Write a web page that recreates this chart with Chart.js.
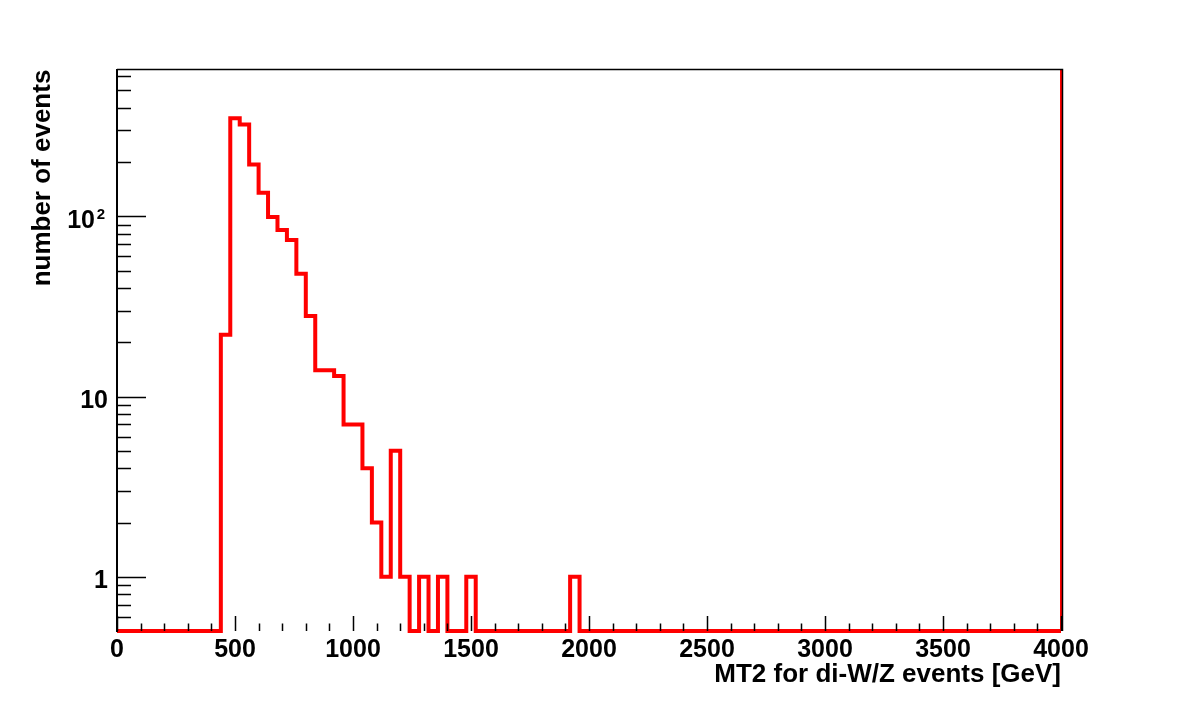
<!DOCTYPE html>
<html>
<head>
<meta charset="utf-8">
<title>MT2 for di-W/Z events</title>
<script src="https://cdn.jsdelivr.net/npm/chart.js@4.4.1/dist/chart.umd.min.js"></script>
<style>
  html, body { margin: 0; padding: 0; background: #fff; }
  #wrap { width: 1182px; height: 703px; }
</style>
</head>
<body>
<div id="wrap"><canvas id="mt2Chart" width="1182" height="703"></canvas></div>
<script>
// Histogram: 100 bins of 40 GeV from 0 to 4000
const xMin = 0;
const xMax = 4000;
const binWidth = 40;
const counts = [
    0, 0, 0, 0, 0, 0, 0, 0, 0, 0,
    0, 22, 350, 323, 194, 135, 99, 84, 74, 48,
    28, 14, 14, 13, 7, 7, 4, 2, 1, 5,
    1, 0, 1, 0, 1, 0, 0, 1, 0, 0,
    0, 0, 0, 0, 0, 0, 0, 0, 1, 0,
    0, 0, 0, 0, 0, 0, 0, 0, 0, 0,
    0, 0, 0, 0, 0, 0, 0, 0, 0, 0,
    0, 0, 0, 0, 0, 0, 0, 0, 0, 0,
    0, 0, 0, 0, 0, 0, 0, 0, 0, 0,
    0, 0, 0, 0, 0, 0, 0, 0, 0, 0
];

// Axis range and ticks
const yMin = 0.5;
const yMax = 657;
const xTickValues = [0, 500, 1000, 1500, 2000, 2500, 3000, 3500, 4000];
const xTickLabels = ['0', '500', '1000', '1500', '2000', '2500', '3000', '3500', '4000'];
const xMinorStep = 100;
const yTickValues = [1, 10, 100];
const yTickLabels = ['1', '10', '10^2'];

const xTitle = 'MT2 for di-W/Z events [GeV]';
const yTitle = 'number of events';

const FONT = '"Liberation Sans", Arial, Helvetica, sans-serif';

// step points: one per bin low edge, plus closing point at xMax
const histPoints = counts.map((c, i) => ({ x: xMin + i * binWidth, y: Math.max(c, yMin) }));
histPoints.push({ x: xMax, y: Math.max(counts[counts.length - 1], yMin) });

// ROOT-like frame, ticks and labels
const rootAxes = {
    id: 'rootAxes',
    afterDatasetsDraw(chart) {
        const { ctx, chartArea: a, scales } = chart;
        const xs = scales.x, ys = scales.y;
        ctx.save();
        ctx.strokeStyle = '#000';

        // frame
        ctx.lineWidth = 1.5;
        ctx.beginPath();
        ctx.moveTo(a.left, a.top + 0.5);
        ctx.lineTo(a.right + 1.5, a.top + 0.5);
        ctx.lineTo(a.right + 1.5, a.bottom);
        ctx.stroke();
        ctx.lineWidth = 2;
        ctx.beginPath();
        ctx.moveTo(a.left, a.top);
        ctx.lineTo(a.left, a.bottom + 1);
        ctx.stroke();

        // x ticks
        ctx.lineWidth = 1.5;
        ctx.beginPath();
        for (let v = xMin; v <= xMax; v += xMinorStep) {
            const px = Math.round(xs.getPixelForValue(v)) + 0.5;
            const len = xTickValues.includes(v) ? 15 : 7.5;
            ctx.moveTo(px, a.bottom);
            ctx.lineTo(px, a.bottom - len);
        }
        // y ticks
        for (let d = 0.1; d < yMax; d *= 10) {
            for (let k = 1; k <= 9; k++) {
                const v = d * k;
                if (v <= yMin || v > yMax) continue;
                const py = Math.round(ys.getPixelForValue(v)) + 0.5;
                const len = k === 1 ? 29 : 14;
                ctx.moveTo(a.left, py);
                ctx.lineTo(a.left + len, py);
            }
        }
        ctx.stroke();

        // x tick labels
        ctx.fillStyle = '#000';
        ctx.font = 'bold 25px ' + FONT;
        ctx.textAlign = 'center';
        ctx.textBaseline = 'alphabetic';
        xTickValues.forEach((v, i) => {
            ctx.fillText(xTickLabels[i], xs.getPixelForValue(v), a.bottom + 26);
        });

        // y tick labels (with ROOT-style exponent)
        ctx.textAlign = 'right';
        yTickValues.forEach((v, i) => {
            const py = ys.getPixelForValue(v) + 11.6;
            const parts = yTickLabels[i].split('^');
            if (parts.length === 2) {
                ctx.font = 'bold 15px ' + FONT;
                ctx.fillText(parts[1], 105, py - 9);
                ctx.font = 'bold 25px ' + FONT;
                ctx.fillText(parts[0], 95, py);
            } else {
                ctx.font = 'bold 25px ' + FONT;
                ctx.fillText(parts[0], 108, py);
            }
        });

        // axis titles
        ctx.font = 'bold 26px ' + FONT;
        ctx.textAlign = 'right';
        ctx.fillText(xTitle, a.right, 682);

        ctx.translate(50, 178);
        ctx.rotate(-Math.PI / 2);
        ctx.textAlign = 'center';
        ctx.fillText(yTitle, 0, 0);
        ctx.restore();
    }
};

const chart = new Chart(document.getElementById('mt2Chart').getContext('2d'), {
    type: 'line',
    data: {
        datasets: [
            {
                label: 'MT2',
                data: histPoints,
                stepped: 'before',
                borderColor: '#ff0000',
                borderWidth: 4,
                borderJoinStyle: 'miter',
                borderCapStyle: 'butt',
                pointRadius: 0,
                fill: false,
                clip: 6
            },
            {
                label: 'edge',
                data: [{ x: xMax, y: yMin }, { x: xMax, y: yMax }],
                borderColor: '#ff0000',
                borderWidth: 2,
                pointRadius: 0,
                fill: false,
                clip: 6
            }
        ]
    },
    options: {
        responsive: false,
        animation: false,
        layout: { padding: { left: 117, right: 121, top: 69, bottom: 72 } },
        scales: {
            x: { type: 'linear', min: xMin, max: xMax, display: false },
            y: { type: 'logarithmic', min: yMin, max: yMax, display: false }
        },
        plugins: {
            legend: { display: false },
            tooltip: { enabled: false }
        }
    },
    plugins: [rootAxes]
});
</script>
</body>
</html>
